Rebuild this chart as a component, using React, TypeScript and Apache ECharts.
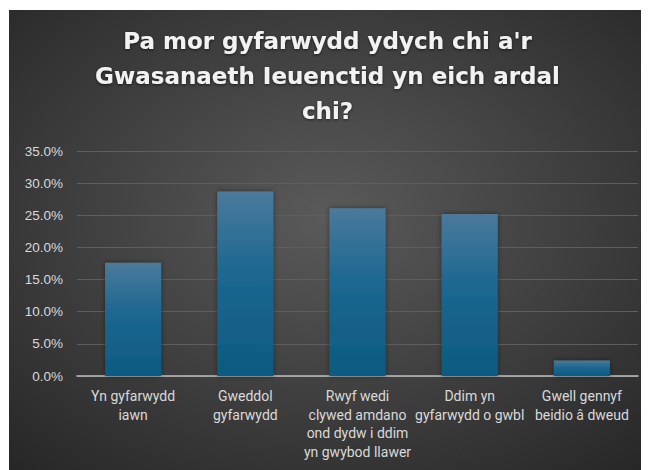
import React, { useEffect, useRef } from "react";
import * as echarts from "echarts";

const titleText = "Pa mor gyfarwydd ydych chi a'r\nGwasanaeth Ieuenctid yn eich ardal\nchi?";
const categories = [
  "Yn gyfarwydd\niawn",
  "Gweddol\ngyfarwydd",
  "Rwyf wedi\nclywed amdano\nond dydw i ddim\nyn gwybod llawer",
  "Ddim yn\ngyfarwydd o gwbl",
  "Gwell gennyf\nbeidio â dweud",
];
const values = [17.6, 28.7, 26.1, 25.2, 2.4];
const yTicks = { min: 0, max: 35, interval: 5 };

export default function App() {
  const ref = useRef<HTMLDivElement>(null);
  useEffect(() => {
    if (!ref.current) return;
    const chart = echarts.init(ref.current, null, { renderer: "svg" });
    chart.setOption({
      animation: false,
      backgroundColor: {
        type: "radial",
        x: 0.5,
        y: 0.45,
        r: 0.75,
        colorStops: [
          { offset: 0, color: "#5a5a5a" },
          { offset: 1, color: "#262626" },
        ],
      },
      title: {
        text: titleText,
        left: "center",
        top: 8,
        textStyle: {
          color: "#f2f2f2",
          fontSize: 23,
          fontWeight: "bold",
          fontFamily: "DejaVu Sans",
          lineHeight: 35,
          textShadowColor: "rgba(0,0,0,0.6)",
          textShadowBlur: 3,
          textShadowOffsetY: 1,
        },
      },
      grid: { left: 68, right: 8, top: 141, bottom: 94 },
      xAxis: {
        type: "category",
        data: categories,
        axisLine: { lineStyle: { color: "#bfbfbf", width: 1.5 } },
        axisTick: { show: false },
        axisLabel: {
          color: "#d9d9d9",
          fontSize: 14,
          fontFamily: "Roboto",
          lineHeight: 18.5,
          margin: 11,
          interval: 0,
        },
      },
      yAxis: {
        type: "value",
        min: yTicks.min,
        max: yTicks.max,
        interval: yTicks.interval,
        axisLine: { show: false },
        axisTick: { show: false },
        splitLine: { lineStyle: { color: "#5e5e5e", width: 1 } },
        axisLabel: {
          color: "#d9d9d9",
          fontSize: 13.5,
          fontFamily: "Liberation Sans",
          margin: 14,
          formatter: (v: number) => v.toFixed(1) + "%",
        },
      },
      series: [
        {
          type: "bar",
          data: values,
          barWidth: "50%",
          itemStyle: {
            color: {
              type: "linear",
              x: 0,
              y: 0,
              x2: 0,
              y2: 1,
              colorStops: [
                { offset: 0, color: "#4a7a9c" },
                { offset: 0.45, color: "#1b6790" },
                { offset: 1, color: "#0d5a80" },
              ],
            },
            shadowColor: "rgba(0,0,0,0.45)",
            shadowBlur: 5,
          },
        },
      ],
    });
    return () => chart.dispose();
  }, []);
  return (
    <div
      ref={ref}
      style={{ width: 637, height: 460, marginLeft: 1, marginTop: 2 }}
    />
  );
}
